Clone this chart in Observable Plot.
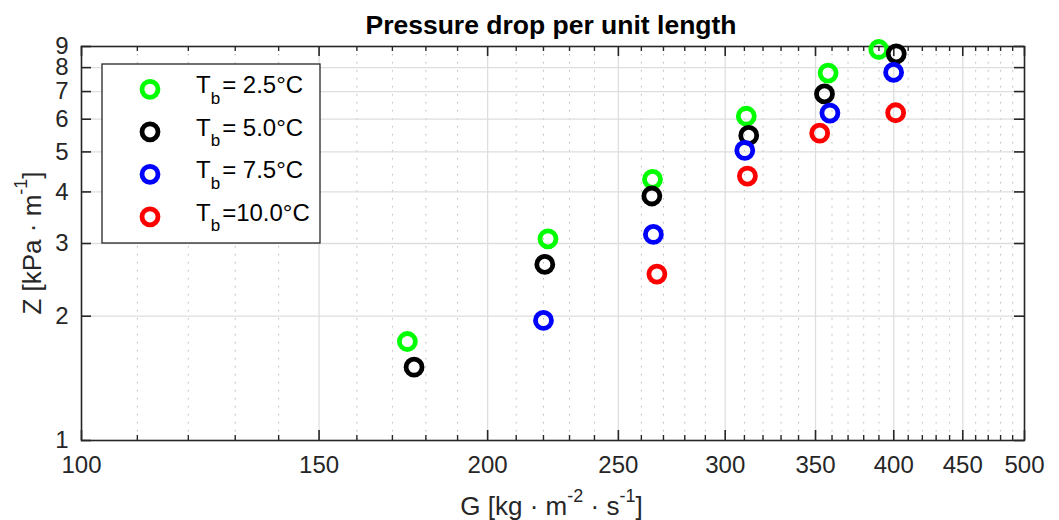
<!DOCTYPE html>
<html><head><meta charset="utf-8">
<script src="https://cdn.jsdelivr.net/npm/d3@7"></script>
<script src="https://cdn.jsdelivr.net/npm/@observablehq/plot@0.6"></script>
<style>
body{margin:0;background:#fff;font-family:"Liberation Sans",Arial,sans-serif;}
#chart{width:1059px;height:520px;}
</style></head><body><div id="chart"></div>
<script>
const titleText = "Pressure drop per unit length";
const seriesNames = ["2.5", "5.0", "7.5", "10.0"];
const seriesLabels = ["= 2.5°C", "= 5.0°C", "= 7.5°C", "=10.0°C"];
const seriesColors = ["#00ff00", "#000000", "#0000ff", "#ff0000"];
const gGreen = [174.4, 221.7, 265.0, 311.0, 357.6, 389.9];
const zGreen = [1.737, 3.08, 4.29, 6.10, 7.76, 8.85];
const gBlack = [176.4, 220.5, 264.7, 312.3, 355.4, 401.7];
const zBlack = [1.505, 2.67, 3.91, 5.48, 6.91, 8.64];
const gBlue = [220.0, 265.4, 310.2, 358.7, 399.9];
const zBlue = [1.953, 3.155, 5.04, 6.21, 7.79];
const gRed = [267.0, 311.6, 352.5, 401.3];
const zRed = [2.53, 4.37, 5.55, 6.22];
const xTicks = [100, 150, 200, 250, 300, 350, 400, 450, 500];
const xGridMajor = [150, 200, 250, 300, 350, 400, 450];
const xMinor = [110, 120, 130, 140, 160, 170, 180, 190, 210, 220, 230, 240, 260, 270, 280, 290,
  310, 320, 330, 340, 360, 370, 380, 390, 410, 420, 430, 440, 460, 470, 480, 490];
const yTicks = [1, 2, 3, 4, 5, 6, 7, 8, 9];
const yGrid = [2, 3, 4, 5, 6, 7, 8];

const seriesG = [gGreen, gBlack, gBlue, gRed];
const seriesZ = [zGreen, zBlack, zBlue, zRed];
const data = [];
seriesNames.forEach((s, i) => seriesG[i].forEach((g, j) => data.push({G: g, Z: seriesZ[i][j], s})));

const W = 1059, H = 520, mL = 81, mR = 35, mT = 46, mB = 80;
const FW = W - mL - mR, FH = H - mT - mB;
const axisCol = "#262626";
const font = "'Liberation Sans', Arial, sans-serif";

const plot = Plot.plot({
  width: W, height: H,
  marginLeft: mL, marginRight: mR, marginTop: mT, marginBottom: mB,
  style: {fontFamily: font, fontSize: "24px", color: axisCol, background: "#fff", overflow: "visible"},
  x: {type: "log", domain: [100, 500], ticks: xTicks, tickFormat: d => String(d)},
  y: {type: "log", domain: [1, 9], ticks: yTicks, tickFormat: d => String(d)},
  color: {domain: seriesNames, range: seriesColors},
  marks: [
    Plot.ruleX(xMinor, {stroke: "#b8b8b8", strokeDasharray: "1.5,6.5", strokeWidth: 1}),
    Plot.ruleX(xGridMajor, {stroke: "#dedede", strokeWidth: 1.3}),
    Plot.ruleY(yGrid, {stroke: "#dedede", strokeWidth: 1.3}),
    Plot.frame({stroke: axisCol, strokeWidth: 1.6}),
    Plot.tickX(xTicks, {x: d => d, insetTop: FH - 10, stroke: axisCol, strokeWidth: 1.6}),
    Plot.tickX(xTicks, {x: d => d, insetBottom: FH - 10, stroke: axisCol, strokeWidth: 1.6}),
    Plot.tickX(xMinor, {x: d => d, insetTop: FH - 5, stroke: axisCol, strokeWidth: 1.4}),
    Plot.tickX(xMinor, {x: d => d, insetBottom: FH - 5, stroke: axisCol, strokeWidth: 1.4}),
    Plot.tickY(yTicks, {y: d => d, insetRight: FW - 10, stroke: axisCol, strokeWidth: 1.6}),
    Plot.tickY(yTicks, {y: d => d, insetLeft: FW - 10, stroke: axisCol, strokeWidth: 1.6}),
    Plot.axisX({tickSize: 0, tickPadding: 15, label: null, fontSize: 24, fill: axisCol}),
    Plot.axisY({tickSize: 0, tickPadding: 13, label: null, fontSize: 24, fill: axisCol}),
    Plot.dot(data, {x: "G", y: "Z", stroke: "s", r: 8, strokeWidth: 4.8, fill: "none"})
  ]
});
document.getElementById("chart").appendChild(plot);

const svg = d3.select(plot);
// title
svg.append("text").attr("x", 551).attr("y", 33.5).attr("text-anchor", "middle")
  .attr("font-family", font).attr("font-size", 26.5).attr("font-weight", "bold").attr("fill", "#000")
  .text(titleText);
// x label
const xl = svg.append("text").attr("x", 551.5).attr("y", 515).attr("text-anchor", "middle")
  .attr("font-family", font).attr("font-size", 26).attr("fill", axisCol);
xl.append("tspan").text("G [kg · m");
xl.append("tspan").attr("font-size", 18).attr("dy", -13.5).text("-2");
xl.append("tspan").attr("dy", 13.5).text(" · s");
xl.append("tspan").attr("font-size", 18).attr("dy", -13.5).text("-1");
xl.append("tspan").attr("dy", 13.5).text("]");
// y label
const yl = svg.append("text").attr("transform", "translate(40.5,243) rotate(-90)").attr("text-anchor", "middle")
  .attr("font-family", font).attr("font-size", 26).attr("fill", axisCol);
yl.append("tspan").text("Z [kPa · m");
yl.append("tspan").attr("font-size", 18).attr("dy", -13.5).text("-1");
yl.append("tspan").attr("dy", 13.5).text("]");
// legend
const lg = svg.append("g");
lg.append("rect").attr("x", 102).attr("y", 64).attr("width", 218).attr("height", 179)
  .attr("fill", "#fff").attr("stroke", axisCol).attr("stroke-width", 1.3);
seriesNames.forEach((s, i) => {
  const cy = 89.3 + i * 42.5;
  lg.append("circle").attr("cx", 150).attr("cy", cy).attr("r", 8)
    .attr("fill", "none").attr("stroke", seriesColors[i]).attr("stroke-width", 4.8);
  const t = lg.append("text").attr("x", 196).attr("y", cy + 4).attr("font-family", font)
    .attr("text-anchor", "start").attr("font-size", 24).attr("fill", "#000");
  t.append("tspan").text("T");
  t.append("tspan").attr("font-size", 17).attr("dy", 10.5).text("b");
  t.append("tspan").attr("dy", -10.5).attr("dx", 2).text(seriesLabels[i]);
});
</script></body></html>
